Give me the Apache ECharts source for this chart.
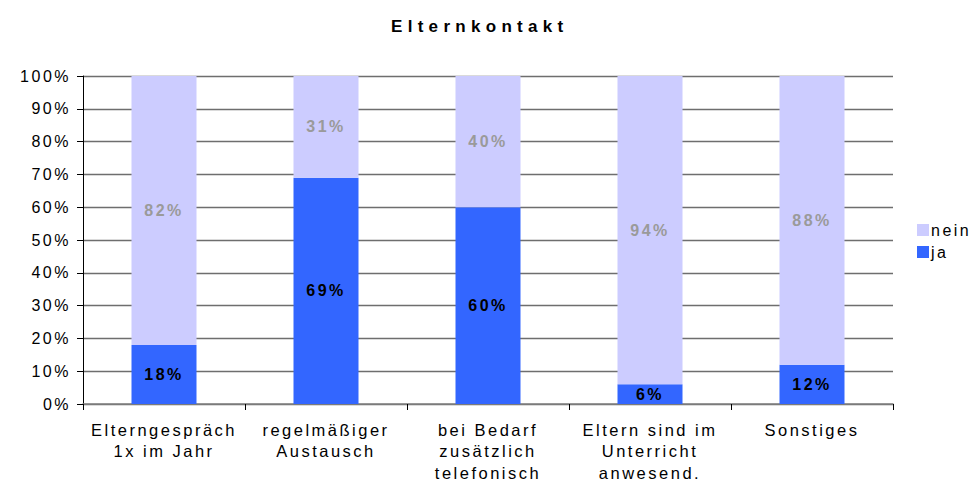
<!DOCTYPE html>
<html>
<head>
<meta charset="utf-8">
<script src="https://cdn.jsdelivr.net/npm/echarts@6/dist/echarts.min.js"></script>
<style>
    html, body { margin: 0; padding: 0; background: #fff; }
    #chart { width: 974px; height: 482px; }
    #chart text { letter-spacing: 2.5px; }
</style>
</head>
<body>
<div id="chart"></div>
<script>
// Elternkontakt - Anteile ja / nein je Kategorie
var categories = [
    'Elterngespräch\n1x im Jahr',
    'regelmäßiger\nAustausch',
    'bei Bedarf\nzusätzlich\ntelefonisch',
    'Eltern sind im\nUnterricht\nanwesend.',
    'Sonstiges'
];
var jaValues = [18, 69, 60, 6, 12];
var neinValues = [82, 31, 40, 94, 88];
var yTicks = { min: 0, max: 100, interval: 10 };

var font = 'Arial, "Liberation Sans", sans-serif';

var chart = echarts.init(document.getElementById('chart'), null, { renderer: 'svg' });

var option = {
    animation: false,
    title: {
        text: 'Elternkontakt',
        left: 386,
        top: 13,
        textStyle: {
            fontFamily: font,
            fontSize: 17,
            fontWeight: 'bold',
            color: '#000'
        }
    },
    legend: {
        orient: 'vertical',
        left: 912,
        top: 217,
        itemWidth: 12,
        itemHeight: 12,
        itemGap: 6,
        icon: 'rect',
        data: ['nein', 'ja'],
        textStyle: {
            fontFamily: font,
            fontSize: 16,
            color: '#000',
            padding: [0, 0, 0, -3]
        }
    },
    grid: {
        left: 83,
        right: 81,
        top: 76,
        bottom: 78,
        outerBoundsMode: 'none'
    },
    xAxis: {
        type: 'category',
        data: categories,
        boundaryGap: true,
        axisLine: { lineStyle: { color: '#808080', width: 1.5 } },
        axisTick: { show: true, length: 6, lineStyle: { color: '#000' } },
        axisLabel: {
            interval: 0,
            margin: 15,
            fontFamily: font,
            fontSize: 16.5,
            lineHeight: 21.5,
            color: '#000'
        }
    },
    yAxis: {
        type: 'value',
        min: yTicks.min,
        max: yTicks.max,
        interval: yTicks.interval,
        axisLine: { show: true, lineStyle: { color: '#000', width: 1 } },
        axisTick: { show: true, length: 6, lineStyle: { color: '#000' } },
        splitLine: { lineStyle: { color: '#6e6e6e', width: 1.3 } },
        axisLabel: {
            formatter: '{value}%',
            margin: 12,
            fontFamily: font,
            fontSize: 16,
            color: '#000'
        }
    },
    series: [
        {
            name: 'ja',
            type: 'bar',
            stack: 'total',
            barWidth: 65,
            data: jaValues,
            itemStyle: { color: '#3366FF' },
            label: {
                show: true,
                position: 'inside',
                formatter: '{c}%',
                fontFamily: font,
                fontSize: 16,
                fontWeight: 'bold',
                color: '#000'
            }
        },
        {
            name: 'nein',
            type: 'bar',
            stack: 'total',
            barWidth: 65,
            data: neinValues,
            itemStyle: { color: '#CCCCFF' },
            label: {
                show: true,
                position: 'inside',
                formatter: '{c}%',
                fontFamily: font,
                fontSize: 16,
                fontWeight: 'bold',
                color: '#9a9a9a'
            }
        }
    ]
};

chart.setOption(option);

// title has wider spacing than the rest
document.querySelectorAll('#chart text').forEach(function (t) {
    if (t.textContent === 'Elternkontakt') {
        t.style.letterSpacing = '5.3px';
    }
});
</script>
</body>
</html>
